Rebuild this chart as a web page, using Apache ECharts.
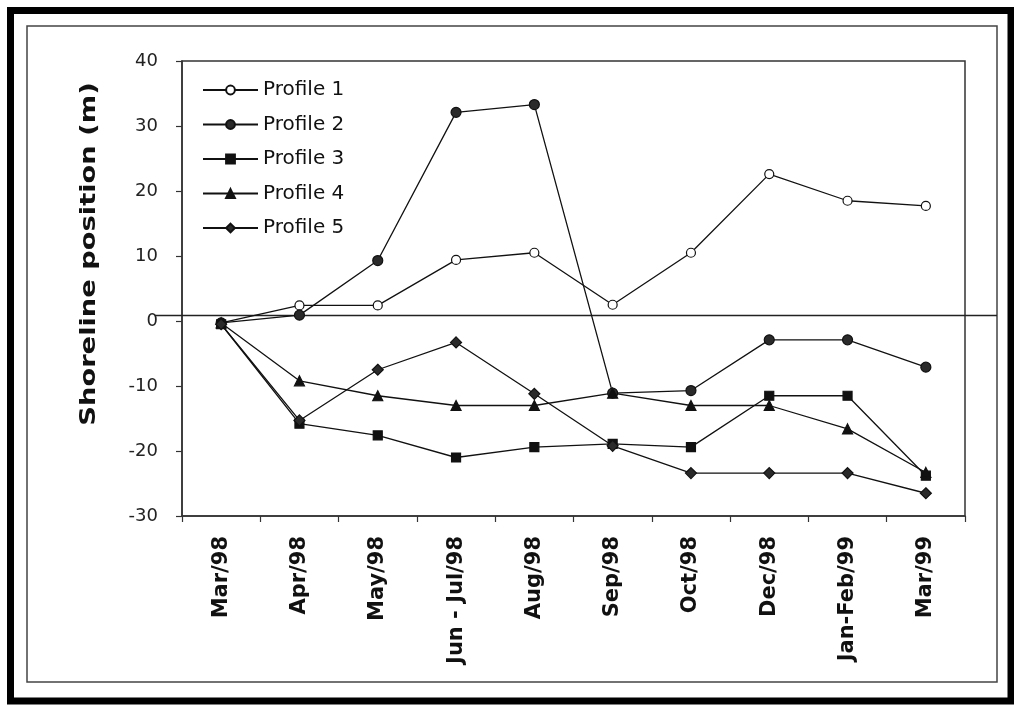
<!DOCTYPE html>
<html>
<head>
<meta charset="utf-8">
<script src="https://cdn.jsdelivr.net/npm/echarts@6/dist/echarts.min.js"></script>
<style>
  html, body { margin: 0; padding: 0; background: #fff; }
  #chart { width: 1014px; height: 705px; }
</style>
</head>
<body>
<div id="chart"></div>
<script>
// Survey dates along the beach
const categories = ['Mar/98', 'Apr/98', 'May/98', 'Jun - Jul/98', 'Aug/98', 'Sep/98', 'Oct/98', 'Dec/98', 'Jan-Feb/99', 'Mar/99'];

// Shoreline position (m) for each surveyed profile
const profile1 = [-0.3, 2.4, 2.4, 9.4, 10.5, 2.5, 10.5, 22.6, 18.5, 17.7];
const profile2 = [-0.3, 0.9, 9.3, 32.1, 33.3, -11.1, -10.7, -2.9, -2.9, -7.1];
const profile3 = [-0.5, -15.8, -17.6, -21.0, -19.4, -18.9, -19.4, -11.5, -11.5, -23.8];
const profile4 = [-0.3, -9.2, -11.5, -13.0, -13.0, -11.1, -13.0, -13.0, -16.6, -23.3];
const profile5 = [-0.5, -15.3, -7.5, -3.3, -11.2, -19.2, -23.4, -23.4, -23.4, -26.5];

// Y axis range and step
const yMin = -30, yMax = 40, yStep = 10;
// Level of the reference line across the plot
const baselineLevel = 1;

const chart = echarts.init(document.getElementById('chart'), null, { renderer: 'canvas' });

const ink = '#111';
function profileSeries(name, data, symbol, size, fill) {
  return {
    name: name,
    type: 'line',
    data: data,
    symbol: symbol,
    symbolSize: size,
    showAllSymbol: true,
    lineStyle: { color: ink, width: 1.3 },
    itemStyle: { color: fill, borderColor: ink, borderWidth: 1.2 },
    emphasis: { disabled: true },
    z: 3
  };
}

const frame = [
  { type: 'rect', shape: { x: 10.5, y: 10.5, width: 1000.5, height: 690.5 },
    style: { fill: null, stroke: '#000', lineWidth: 7 }, silent: true },
  { type: 'rect', shape: { x: 27, y: 26, width: 970, height: 656 },
    style: { fill: null, stroke: '#444', lineWidth: 1.5 }, silent: true },
  { type: 'text', x: 90, y: 254, rotation: Math.PI / 2, scaleX: 1.3,
    style: { text: 'Shoreline position (m)', fontFamily: 'DejaVu Sans', fontWeight: 'bold',
             fontSize: 21, fill: '#111', align: 'center', verticalAlign: 'middle' }, silent: true }
];

chart.setOption({
  animation: false,
  backgroundColor: '#fff',
  grid: { left: 182, top: 61, right: 49, bottom: 189, show: true, borderColor: '#333', borderWidth: 1.5, backgroundColor: 'transparent' },
  legend: {
    orient: 'vertical',
    left: 202,
    top: 80,
    padding: 0,
    itemWidth: 55,
    itemHeight: 11,
    itemGap: 14.5,
    textStyle: { fontFamily: 'DejaVu Sans', fontSize: 20, color: '#111' },
    data: ['Profile 1', 'Profile 2', 'Profile 3', 'Profile 4', 'Profile 5']
  },
  xAxis: {
    type: 'category',
    data: categories,
    boundaryGap: true,
    axisLine: { onZero: false, lineStyle: { color: '#333', width: 1.5 } },
    axisTick: { show: true, inside: false, length: 6, lineStyle: { color: '#333', width: 1.2 } },
    axisLabel: { rotate: 90, margin: 20, interval: 0, fontFamily: 'DejaVu Sans', fontWeight: 'bold', fontSize: 21, color: '#111' },
    splitLine: { show: false }
  },
  yAxis: {
    type: 'value',
    min: yMin, max: yMax, interval: yStep,
    axisLine: { show: true, lineStyle: { color: '#333', width: 1.5 } },
    axisTick: { show: true, inside: false, length: 6, lineStyle: { color: '#333', width: 1.2 } },
    axisLabel: { margin: 24, fontFamily: 'DejaVu Sans', fontSize: 18, color: '#222' },
    splitLine: { show: false }
  },
  graphic: frame,
  series: [
    profileSeries('Profile 1', profile1, 'circle', 9, '#fff'),
    profileSeries('Profile 2', profile2, 'circle', 10, '#2a2a2a'),
    profileSeries('Profile 3', profile3, 'rect', 9, '#111'),
    profileSeries('Profile 4', profile4, 'triangle', 10, '#111'),
    profileSeries('Profile 5', profile5, 'diamond', 11, '#2a2a2a')
  ]
});

// Horizontal reference line, placed through the value axis
const yPix = Math.round(chart.convertToPixel({ yAxisIndex: 0 }, baselineLevel)) + 0.5;
chart.setOption({
  graphic: frame.concat([
    { type: 'line', shape: { x1: 155, y1: yPix, x2: 997, y2: yPix },
      style: { stroke: '#222', lineWidth: 1.5 }, silent: true, z: 2 }
  ])
});
</script>
</body>
</html>
